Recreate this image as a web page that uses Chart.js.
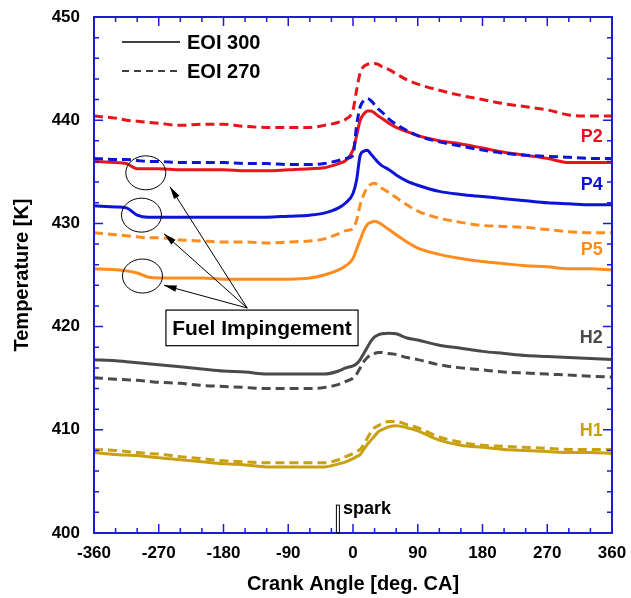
<!DOCTYPE html>
<html>
<head>
<meta charset="utf-8">
<script src="https://cdn.jsdelivr.net/npm/chart.js@4"></script>
<style>
    body { margin: 0; background: #fff; }
    #wrap { width: 631px; height: 598px; }
</style>
</head>
<body>
<div id="wrap"><canvas id="tempChart" width="631" height="598"></canvas></div>
<script>
// crank angle grid [deg. CA]
const crankAngle = [-360,-330,-315,-300,-285,-270,-240,-210,-180,-150,-120,-90,-60,-40,-20,-10,0,5,10,15,20,25,30,35,40,50,60,75,90,120,150,180,210,240,270,300,330,360];

// temperatures [K], EOI 300 (solid) and EOI 270 (dashed)
const p2_300 = [436.0,435.9,435.8,435.3,435.3,435.3,435.2,435.2,435.2,435.1,435.1,435.2,435.3,435.4,435.8,436.1,437.1,438.5,440.0,440.6,440.9,440.9,440.7,440.4,440.2,439.7,439.3,438.9,438.5,438.0,437.7,437.3,436.9,436.6,436.3,435.9,435.9,435.9];
const p2_270 = [440.4,440.2,440.0,439.9,439.8,439.7,439.5,439.6,439.6,439.4,439.3,439.3,439.3,439.5,439.8,440.1,441.0,442.9,444.6,445.2,445.4,445.5,445.5,445.4,445.2,444.9,444.5,443.9,443.5,442.9,442.4,442.0,441.6,441.3,441.0,440.5,440.4,440.4];
const p4_300 = [431.7,431.6,431.5,430.8,430.6,430.6,430.6,430.6,430.6,430.6,430.6,430.7,430.8,431.0,431.5,432.0,432.9,434.2,436.6,437.0,437.1,436.7,436.3,435.9,435.6,435.2,434.7,434.1,433.7,433.1,432.8,432.6,432.4,432.2,432.0,431.9,431.8,431.8];
const p4_270 = [436.3,436.2,436.2,436.1,436.0,436.0,435.9,435.9,435.9,435.8,435.8,435.7,435.7,435.8,436.1,436.3,436.6,439.5,441.3,441.9,442.1,441.9,441.5,441.1,440.8,440.1,439.6,439.0,438.5,437.9,437.5,437.1,436.8,436.6,436.5,436.4,436.3,436.3];
const p5_300 = [425.6,425.5,425.4,425.2,424.8,424.7,424.7,424.7,424.6,424.6,424.6,424.6,424.7,425.0,425.5,425.9,426.6,427.5,428.4,429.3,429.9,430.1,430.2,430.1,429.9,429.4,428.9,428.2,427.6,427.0,426.6,426.3,426.1,425.9,425.8,425.6,425.6,425.5];
const p5_270 = [429.1,428.9,428.8,428.7,428.6,428.6,428.4,428.3,428.2,428.2,428.1,428.2,428.3,428.5,429.0,429.3,429.5,430.3,431.8,432.8,433.5,433.8,433.9,433.7,433.4,433.0,432.5,431.8,431.2,430.5,430.1,429.8,429.7,429.6,429.4,429.2,429.1,429.1];
const h2_300 = [416.8,416.7,416.6,416.5,416.4,416.3,416.1,415.9,415.7,415.6,415.4,415.4,415.4,415.4,415.7,416.0,416.2,416.4,416.8,417.4,418.0,418.6,419.0,419.2,419.3,419.35,419.3,418.9,418.7,418.2,417.9,417.6,417.4,417.2,417.1,417.0,416.9,416.8];
const h2_270 = [415.05,414.9,414.85,414.8,414.7,414.6,414.5,414.3,414.2,414.1,414.0,414.0,414.0,414.1,414.4,414.7,415.0,415.4,416.0,416.6,417.0,417.3,417.4,417.5,417.5,417.4,417.3,417.0,416.8,416.3,416.0,415.8,415.6,415.5,415.4,415.3,415.2,415.1];
const h1_300 = [407.8,407.6,407.55,407.5,407.4,407.3,407.1,406.9,406.7,406.6,406.4,406.4,406.4,406.4,406.7,406.9,407.2,407.4,407.6,408.1,408.6,409.0,409.4,409.8,410.0,410.3,410.4,410.2,409.9,409.0,408.5,408.3,408.1,408.0,407.9,407.8,407.8,407.7];
const h1_270 = [408.1,408.0,407.9,407.8,407.7,407.65,407.4,407.2,407.0,406.9,406.8,406.8,406.8,406.8,407.1,407.4,407.7,407.9,408.1,408.6,409.2,409.8,410.2,410.4,410.6,410.8,410.8,410.5,410.2,409.3,408.8,408.5,408.4,408.3,408.2,408.1,408.1,408.1];

const xTicks = [-360,-270,-180,-90,0,90,180,270,360];
const yTicks = [400,410,420,430,440,450];

const legendLabels = ["EOI 300", "EOI 270"];
const seriesNames = ["P2", "P4", "P5", "H2", "H1"];
const seriesColors = ["#e8141c", "#0c14d8", "#ff8c1e", "#4a4a4a", "#c9a012"];
const sparkAngle = -21;
const noteText = "Fuel Impingement";

const AXIS_BLUE = "#1c1cd6";
const FONT = "Arial, 'Liberation Sans', sans-serif";

function toXY(arr) {
    return crankAngle.map((a, i) => ({ x: a, y: arr[i] }));
}

function makeSet(arr, color, dashed) {
    return {
        data: toXY(arr),
        borderColor: color,
        borderWidth: 3,
        borderDash: dashed ? [9, 5] : [],
        pointRadius: 0,
        fill: false,
        tension: 0.4,
        cubicInterpolationMode: 'monotone'
    };
}

// ticks inward on all four sides + blue frame + annotations
const decorPlugin = {
    id: 'decor',
    afterDatasetsDraw(chart) {
        const ctx = chart.ctx;
        const xs = chart.scales.x;
        const ys = chart.scales.y;
        const a = chart.chartArea;

        ctx.save();
        // frame
        ctx.strokeStyle = AXIS_BLUE;
        ctx.lineWidth = 2;
        ctx.strokeRect(a.left, a.top, a.right - a.left, a.bottom - a.top);

        // x ticks every 30 deg
        ctx.lineWidth = 1.5;
        for (let v = -360; v <= 360; v += 30) {
            const px = xs.getPixelForValue(v);
            const len = (v % 90 === 0) ? 9 : 5;
            ctx.beginPath();
            ctx.moveTo(px, a.bottom); ctx.lineTo(px, a.bottom - len);
            ctx.moveTo(px, a.top); ctx.lineTo(px, a.top + len);
            ctx.stroke();
        }
        // y ticks every 2 K
        for (let v = 400; v <= 450; v += 2) {
            const py = ys.getPixelForValue(v);
            const len = (v % 10 === 0) ? 9 : 5;
            ctx.beginPath();
            ctx.moveTo(a.left, py); ctx.lineTo(a.left + len, py);
            ctx.moveTo(a.right, py); ctx.lineTo(a.right - len, py);
            ctx.stroke();
        }

        // legend
        ctx.strokeStyle = "#000";
        ctx.fillStyle = "#000";
        ctx.lineWidth = 1.5;
        ctx.font = "bold 20px " + FONT;
        ctx.textBaseline = "middle";
        ctx.textAlign = "left";
        [42, 71].forEach((ly, i) => {
            ctx.setLineDash(i === 0 ? [] : [7, 5]);
            ctx.beginPath();
            ctx.moveTo(a.left + 28, ly); ctx.lineTo(a.left + 86, ly);
            ctx.stroke();
            ctx.setLineDash([]);
            ctx.fillText(legendLabels[i], a.left + 93, ly + 1);
        });

        // series names at right
        const nameY = [438.5, 433.8, 427.5, 419.0, 410.0];
        ctx.font = "bold 18px " + FONT;
        ctx.textAlign = "right";
        seriesNames.forEach((n, i) => {
            ctx.fillStyle = seriesColors[i];
            ctx.fillText(n, xs.getPixelForValue(347), ys.getPixelForValue(nameY[i]) + 1);
        });

        // spark marker
        const sx = xs.getPixelForValue(sparkAngle);
        const sTop = ys.getPixelForValue(402.7);
        ctx.strokeStyle = "#000";
        ctx.lineWidth = 1;
        ctx.strokeRect(sx - 1.5, sTop, 3, a.bottom - sTop);
        ctx.fillStyle = "#000";
        ctx.font = "bold 18px " + FONT;
        ctx.textAlign = "left";
        ctx.fillText("spark", sx + 5, ys.getPixelForValue(402.3));

        // fuel impingement circles
        const circles = [[-288, 434.9], [-294, 430.8], [-292.6, 424.9]];
        ctx.lineWidth = 1;
        circles.forEach(c => {
            ctx.beginPath();
            ctx.ellipse(xs.getPixelForValue(c[0]), ys.getPixelForValue(c[1]), 20, 17, 0, 0, Math.PI * 2);
            ctx.stroke();
        });

        // arrows
        const bx = xs.getPixelForValue(-147), by = ys.getPixelForValue(421.8);
        const heads = [[-254.4, 433.55], [-262.7, 429.0], [-262.7, 424.0]];
        heads.forEach(h => {
            const hx = xs.getPixelForValue(h[0]), hy = ys.getPixelForValue(h[1]);
            ctx.beginPath();
            ctx.moveTo(bx, by); ctx.lineTo(hx, hy);
            ctx.stroke();
            const ang = Math.atan2(hy - by, hx - bx);
            ctx.beginPath();
            ctx.moveTo(hx, hy);
            ctx.lineTo(hx - 13 * Math.cos(ang - 0.25), hy - 13 * Math.sin(ang - 0.25));
            ctx.lineTo(hx - 13 * Math.cos(ang + 0.25), hy - 13 * Math.sin(ang + 0.25));
            ctx.closePath();
            ctx.fill();
        });

        // note box
        const x0 = xs.getPixelForValue(-260), x1 = xs.getPixelForValue(7);
        const y0 = ys.getPixelForValue(421.6), y1 = ys.getPixelForValue(418.15);
        ctx.fillStyle = "#fff";
        ctx.fillRect(x0, y0, x1 - x0, y1 - y0);
        ctx.lineWidth = 1.2;
        ctx.strokeRect(x0, y0, x1 - x0, y1 - y0);
        ctx.fillStyle = "#000";
        ctx.font = "bold 21px " + FONT;
        ctx.textAlign = "center";
        ctx.fillText(noteText, (x0 + x1) / 2, (y0 + y1) / 2 + 1);

        ctx.restore();
    }
};

const ctx = document.getElementById('tempChart').getContext('2d');
new Chart(ctx, {
    type: 'line',
    data: {
        datasets: [
            makeSet(h1_270, seriesColors[4], true),
            makeSet(h1_300, seriesColors[4], false),
            makeSet(h2_270, seriesColors[3], true),
            makeSet(h2_300, seriesColors[3], false),
            makeSet(p5_270, seriesColors[2], true),
            makeSet(p5_300, seriesColors[2], false),
            makeSet(p4_300, seriesColors[1], false),
            makeSet(p2_270, seriesColors[0], true),
            makeSet(p4_270, seriesColors[1], true),
            makeSet(p2_300, seriesColors[0], false)
        ]
    },
    options: {
        responsive: false,
        animation: false,
        layout: { padding: { top: 17, right: 19, left: 0, bottom: 0 } },
        plugins: {
            legend: { display: false },
            tooltip: { enabled: false }
        },
        scales: {
            x: {
                type: 'linear',
                min: -360,
                max: 360,
                afterFit: s => { s.height = 65; s.paddingLeft = 0; s.paddingRight = 0; },
                afterBuildTicks: s => { s.ticks = xTicks.map(v => ({ value: v })); },
                grid: { display: false, drawTicks: false },
                border: { display: false },
                ticks: {
                    color: '#000',
                    padding: 10,
                    maxRotation: 0,
                    font: { family: FONT, size: 17, weight: 'bold' }
                },
                title: {
                    display: true,
                    text: 'Crank Angle [deg. CA]',
                    color: '#000',
                    padding: { top: 0, bottom: 2 },
                    font: { family: FONT, size: 20, weight: 'bold' }
                }
            },
            y: {
                type: 'linear',
                min: 400,
                max: 450,
                afterFit: s => { s.width = 94; s.paddingTop = 0; s.paddingBottom = 0; },
                afterBuildTicks: s => { s.ticks = yTicks.map(v => ({ value: v })); },
                grid: { display: false, drawTicks: false },
                border: { display: false },
                ticks: {
                    color: '#000',
                    padding: 14,
                    font: { family: FONT, size: 17, weight: 'bold' }
                },
                title: {
                    display: true,
                    text: 'Temperature [K]',
                    color: '#000',
                    padding: { top: 10, bottom: 0 },
                    font: { family: FONT, size: 20, weight: 'bold' }
                }
            }
        }
    },
    plugins: [decorPlugin]
});
</script>
</body>
</html>
